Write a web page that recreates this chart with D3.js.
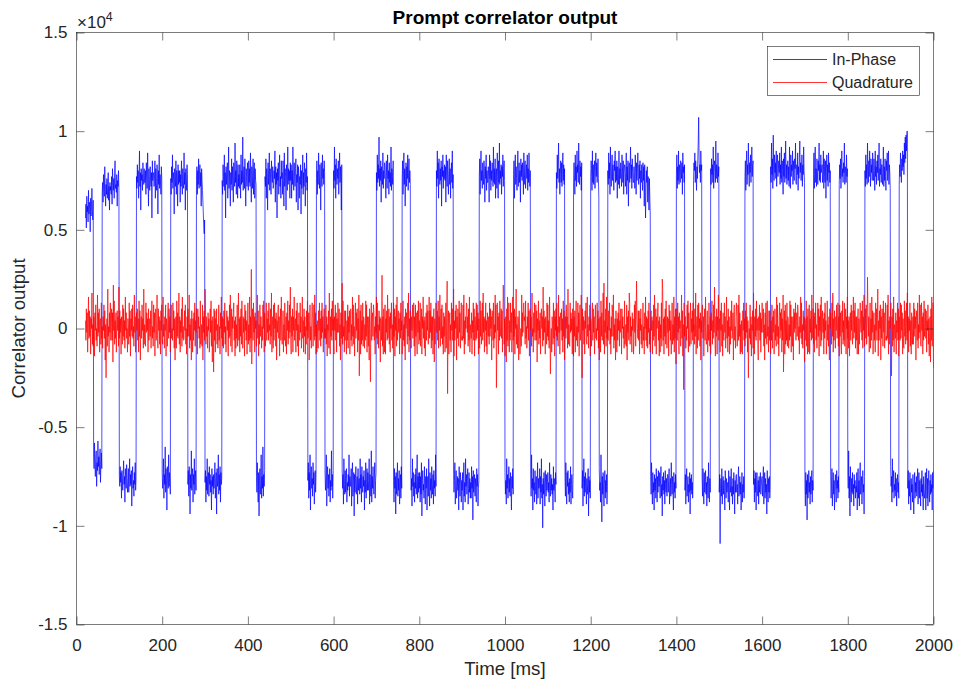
<!DOCTYPE html>
<html>
<head>
<meta charset="utf-8">
<title>Prompt correlator output</title>
<script src="https://cdn.jsdelivr.net/npm/d3@7"></script>
<style>
  html, body { margin: 0; padding: 0; background: #ffffff; }
  svg { display: block; }
</style>
</head>
<body>
<svg id="chart" width="957" height="684"></svg>
<script>
// ---- Data ---------------------------------------------------------------
// Prompt correlator samples in units of 100 counts, one per 1 ms epoch,
// starting at t = 21 ms. Each row of inPhase spans one 20 ms navigation bit.
const sampleStartMs = 21;
const sampleStepMs = 1;
const sampleUnit = 100;

const inPhase = [
  56,63,51,67,59,62,54,70,58,64,61,49,66,57,63,71,60,55,65,
  -64,-71,-58,-69,-75,-66,-62,-80,-68,-72,-57,-70,-65,-74,-67,-61,-78,-69,-63,-71,
  69,74,64,78,71,67,82,70,62,73,68,76,66,71,79,65,72,60,74,70,
  72,68,77,63,81,74,70,76,66,79,85,71,73,69,78,62,75,72,80,70,
  -75,-80,-70,-78,-73,-86,-72,-76,-82,-74,-67,-79,-75,-88,-71,-77,-81,-69,-76,-83,
  -78,-71,-83,-75,-66,-80,-74,-79,-72,-90,-76,-70,-81,-77,-85,-73,-79,-68,-82,-76,
  77,71,83,74,80,66,76,90,72,79,60,81,75,78,70,84,76,73,81,74,
  74,80,68,84,76,71,89,77,62,81,73,70,82,75,72,79,56,85,75,78,
  79,72,76,85,66,81,74,70,83,76,58,80,73,88,71,78,75,68,82,76,
  -73,-81,-76,-66,-86,-74,-79,-60,-83,-71,-77,-92,-70,-76,-81,-64,-80,-73,-78,-84,
  76,68,82,74,88,71,79,75,58,81,77,72,85,68,80,76,62,83,73,80,
  74,80,64,78,72,85,75,68,81,74,71,89,73,79,60,81,76,70,83,75,
  -79,-72,-85,-70,-77,-94,-74,-81,-62,-82,-75,-71,-88,-74,-79,-66,-84,-76,-72,-82,
  75,82,68,80,73,86,71,78,83,72,79,62,81,75,70,64,58,52,48,55,
  -78,-72,-88,-75,-82,-66,-84,-76,-73,-85,-70,-79,-74,-83,-77,-92,-71,-80,-75,-84,
  -74,-81,-76,-68,-86,-78,-73,-94,-71,-80,-77,-64,-84,-74,-82,-70,-88,-73,-79,-76,
  75,68,83,77,72,88,70,79,56,82,73,78,84,66,76,92,71,80,74,62,
  79,73,86,70,82,75,64,84,77,72,94,74,80,68,85,76,66,83,72,78,
  71,83,76,66,88,73,80,74,97,70,78,82,71,86,75,62,81,77,72,84,
  78,70,85,74,81,72,89,74,64,82,77,71,86,68,80,84,66,81,75,73,
  -75,-83,-68,-80,-88,-73,-95,-77,-71,-84,-78,-64,-86,-75,-81,-60,-85,-74,-80,-72,
  77,72,86,66,81,75,60,84,73,80,89,70,81,76,68,85,78,74,82,71,
  73,80,76,90,64,82,73,79,56,81,75,84,68,80,88,72,77,66,85,76,
  79,68,85,75,62,89,72,81,77,60,83,76,70,92,73,81,75,80,66,84,
  75,83,66,80,73,92,76,70,84,77,72,81,86,64,78,74,83,60,82,77,
  66,77,73,83,58,80,71,75,88,68,79,72,84,76,62,81,74,89,70,77,
  -77,-68,-86,-73,-82,-64,-92,-75,-70,-81,-76,-85,-68,-79,-73,-89,-78,-72,-83,-74,
  76,85,68,80,73,89,78,71,83,75,60,84,77,72,88,76,81,73,85,79,
  -73,-82,-75,-64,-90,-77,-70,-81,-74,-85,-79,-71,-88,-77,-82,-62,-80,-74,-86,-72,
  80,71,92,75,83,66,86,77,73,81,76,85,68,79,89,74,82,75,60,83,
  -71,-81,-74,-89,-66,-79,-84,-72,-83,-76,-71,-88,-78,-82,-74,-80,-64,-85,-75,-79,
  -80,-71,-90,-75,-68,-85,-77,-73,-95,-74,-83,-76,-70,-84,-79,-75,-89,-71,-82,-77,
  -76,-84,-66,-81,-74,-88,-70,-79,-83,-75,-80,-72,-92,-77,-83,-68,-86,-78,-71,-82,
  -73,-82,-77,-66,-89,-74,-80,-85,-62,-88,-75,-81,-70,-79,-84,-76,-68,-86,-77,-73,
  79,70,88,74,83,76,97,72,81,75,85,64,82,77,73,89,71,80,76,84,
  82,74,66,85,77,71,88,76,80,68,84,74,79,72,92,70,81,77,73,85,
  -77,-88,-71,-81,-75,-94,-73,-84,-78,-68,-85,-76,-82,-72,-89,-80,-74,-86,-70,-81,
  75,85,68,80,89,73,81,62,77,84,72,82,76,88,70,79,86,74,80,73,
  -72,-82,-76,-90,-66,-80,-73,-85,-78,-88,-74,-81,-71,-84,-77,-64,-86,-75,-83,-73,
  -81,-73,-88,-75,-84,-68,-95,-77,-72,-82,-79,-86,-70,-80,-89,-75,-81,-71,-92,-76,
  -75,-85,-66,-80,-90,-73,-82,-76,-86,-70,-79,-84,-74,-89,-72,-81,-77,-85,-64,-80,
  80,72,90,76,84,66,86,78,73,81,75,85,62,82,77,88,71,80,76,83,
  75,82,64,88,77,72,85,76,68,80,86,73,81,66,79,84,74,90,71,78,
  -74,-83,-77,-68,-89,-80,-72,-86,-81,-75,-82,-76,-92,-70,-79,-85,-73,-78,-88,-77,
  -82,-73,-92,-76,-68,-85,-78,-88,-66,-80,-74,-84,-77,-71,-89,-81,-73,-83,-76,-86,
  -78,-86,-70,-81,-75,-97,-72,-83,-79,-74,-85,-76,-82,-88,-71,-80,-74,-90,-81,-77,
  77,86,68,81,90,75,80,71,84,78,73,85,77,64,82,76,88,70,80,74,
  74,82,77,64,88,76,85,70,80,75,84,78,72,92,74,81,73,86,66,79,
  81,71,89,77,66,85,74,94,73,80,76,83,68,82,77,88,72,81,85,75,
  -73,-84,-77,-89,-66,-81,-74,-86,-79,-70,-83,-76,-85,-73,-80,-92,-75,-81,-71,-84,
  78,85,66,80,88,73,82,76,70,81,90,72,79,84,74,80,64,86,77,83,
  75,84,79,68,89,73,81,85,71,78,83,76,88,70,81,74,89,79,72,80,
  -74,-85,-64,-81,-76,-92,-71,-82,-78,-88,-72,-80,-84,-75,-89,-79,-68,-86,-76,-81,
  -80,-71,-89,-75,-83,-66,-86,-79,-101,-76,-84,-73,-81,-90,-72,-80,-85,-74,-82,-78,
  -73,-83,-78,-88,-68,-81,-85,-74,-82,-76,-84,-79,-92,-70,-82,-76,-81,-88,-73,-79,
  79,71,88,76,82,94,74,81,68,78,85,74,84,72,81,89,75,83,73,81,
  -75,-85,-68,-82,-89,-73,-80,-72,-84,-78,-88,-76,-83,-70,-89,-79,-74,-82,-86,-73,
  74,84,78,68,88,75,82,72,90,79,83,74,94,80,73,85,77,82,70,84,
  -81,-72,-90,-78,-66,-85,-75,-83,-73,-80,-89,-76,-84,-79,-71,-95,-75,-83,-77,-86,
  77,85,81,70,90,74,83,73,79,85,71,82,89,77,84,74,80,86,76,66,
  -71,-82,-78,-88,-64,-80,-98,-75,-84,-73,-82,-90,-79,-72,-86,-77,-83,-74,-89,-80,
  80,73,89,76,84,68,92,79,72,82,88,75,83,77,70,85,80,90,74,82,
  75,85,66,82,78,73,90,71,81,76,84,79,72,88,82,74,85,68,79,83,
  82,72,79,89,68,82,75,85,62,78,84,74,80,92,76,83,71,86,79,74,
  74,82,76,71,88,79,68,84,75,81,89,77,73,83,76,85,66,80,74,83,
  78,70,84,75,82,62,83,73,56,71,80,74,82,64,77,72,60,76,66,58,
  -75,-84,-68,-81,-89,-73,-83,-78,-92,-74,-82,-76,-86,-71,-79,-88,-75,-83,-72,-80,
  -80,-73,-86,-76,-70,-85,-79,-95,-75,-82,-73,-84,-77,-89,-72,-81,-83,-76,-85,-74,
  -74,-83,-77,-71,-89,-81,-76,-85,-68,-79,-84,-75,-82,-92,-73,-83,-78,-86,-74,-81,
  78,88,71,82,75,90,73,83,79,74,85,81,76,84,68,89,79,82,74,83,
  -82,-74,-89,-78,-71,-85,-81,-75,-88,-79,-83,-73,-94,-76,-82,-74,-84,-78,-86,-75,
  75,84,80,89,74,85,78,70,82,76,86,95,107,85,79,83,74,90,80,83,
  -76,-85,-71,-82,-89,-73,-83,-79,-72,-84,-78,-90,-75,-80,-86,-68,-82,-88,-76,-83,
  81,73,86,78,83,74,92,71,79,85,82,74,95,76,83,80,74,89,77,82,
  -83,-74,-109,-81,-76,-85,-71,-89,-79,-75,-84,-77,-82,-92,-72,-80,-86,-76,-83,-79,
  -78,-88,-72,-82,-92,-75,-83,-79,-71,-85,-80,-89,-76,-84,-73,-82,-94,-77,-83,-75,
  -74,-83,-79,-89,-76,-70,-85,-81,-75,-84,-78,-92,-82,-73,-88,-79,-83,-75,-86,-80,
  77,85,70,82,90,73,83,78,94,80,72,84,79,88,74,82,92,77,83,85,
  -79,-72,-88,-76,-83,-73,-92,-80,-73,-82,-85,-77,-89,-75,-83,-79,-73,-84,-80,-76,
  -75,-85,-78,-70,-89,-81,-73,-86,-76,-83,-79,-94,-72,-82,-88,-76,-83,-75,-86,-79,
  82,74,94,78,86,71,98,80,75,88,79,84,76,90,72,83,88,77,81,85,
  79,89,73,83,76,92,74,85,80,68,86,77,89,74,82,95,76,83,73,80,
  85,75,82,72,92,79,71,88,77,83,80,90,73,85,79,75,86,81,94,74,
  73,83,78,89,70,82,76,86,95,79,84,75,80,88,72,83,78,92,80,74,
  -80,-90,-73,-84,-77,-97,-74,-86,-81,-72,-83,-78,-89,-75,-84,-80,-72,-88,-77,-82,
  78,89,71,83,92,74,81,72,86,79,73,85,80,94,75,83,74,88,79,81,
  83,74,80,90,71,86,77,74,85,66,81,88,75,83,72,89,79,84,74,80,
  -75,-86,-79,-71,-90,-81,-73,-84,-77,-92,-80,-74,-82,-88,-72,-81,-77,-86,-75,-83,
  73,83,76,86,71,80,90,77,81,74,84,79,94,73,82,80,74,88,77,81,
  -72,-81,-62,-86,-75,-95,-70,-80,-88,-76,-83,-73,-84,-79,-90,-74,-81,-77,-86,-80,
  -83,-73,-92,-79,-71,-86,-77,-90,-74,-68,-84,-80,-75,-89,-81,-72,-83,-79,-94,-75,
  80,72,88,76,83,73,94,80,74,85,77,90,81,72,86,79,83,75,89,80,
  75,86,80,70,90,77,82,73,85,79,88,75,82,94,72,81,78,86,74,83,
  83,73,79,92,72,82,75,86,77,70,85,80,89,75,81,90,73,83,79,71,
  -70,-80,-75,-88,-66,-83,-77,-72,-86,-79,-82,-73,-85,-76,-90,-80,-74,-83,-78,-86,
  73,83,77,89,81,74,86,80,90,82,88,78,94,84,97,86,98,90,100,100,
  -81,-72,-89,-77,-85,-73,-82,-92,-76,-83,-79,-88,-74,-84,-94,-80,-73,-86,-78,-83,
  -75,-85,-79,-71,-89,-80,-73,-86,-77,-82,-90,-76,-83,-72,-85,-79,-92,-75,-82,-86,
  -83,-73,-92,-79,-71,-86,-76,-90,-80,-72,-82,-88,-77,-84,-74,-83,-79,-92,-73,-81,
  -72
];

const quadrature = [
  4,-6,10,-2,8,-12,1,16,-5,9,-4,6,-13,5,0,18,-8,2,-9,6,
  5,-14,8,-1,12,-6,0,-9,17,-4,8,-2,10,-12,4,5,-8,13,-5,1,
  -10,6,-1,12,-5,9,-16,2,-25,-2,5,-9,20,-4,1,-12,8,-2,13,-6,
  1,10,-6,8,-17,22,-1,14,-8,4,-5,8,-12,2,9,-1,6,-9,21,-5,
  9,-2,5,-13,6,1,-8,12,-4,10,-6,4,-10,16,-1,8,-5,0,-12,5,
  2,-8,13,-4,9,-14,5,-1,10,-4,12,-5,1,-9,17,-2,6,-12,4,8,
  -1,10,-6,5,-12,14,-4,9,-16,0,6,-5,12,-1,5,-10,20,-8,2,-5,
  -9,13,-2,8,-1,5,-12,10,-6,2,5,-4,9,-10,2,14,-5,1,-9,12,
  -2,8,-14,5,10,-6,0,17,-5,-10,10,-1,6,-8,4,-13,9,-1,12,-5,
  -8,16,-4,2,-10,6,-1,12,-14,5,1,-9,8,13,-5,10,-2,6,-12,4,
  12,-5,0,-6,13,-1,9,-10,5,-16,-1,6,-10,14,-4,8,-5,2,18,-8,
  6,-12,4,-2,10,-9,16,-5,1,-6,-5,9,-1,12,-8,0,-13,6,-4,10,
  8,-4,17,-10,2,-6,5,-16,9,-1,-12,5,-6,8,-1,13,-9,4,-2,10,
  4,-13,10,0,6,-5,1,-10,14,-8,-5,2,-9,12,-16,6,-2,9,-6,20,
  12,-8,6,-4,1,-10,8,-1,5,-12,-6,10,-2,14,-9,4,-17,6,1,-22,
  10,-6,9,-12,5,-1,10,-8,2,-10,-4,12,-6,1,-13,8,0,16,-5,6,
  -9,5,-10,9,-2,13,-8,1,-12,6,9,-1,6,-14,4,-5,12,-4,17,-9,
  -2,10,-12,6,0,8,13,-6,4,-14,6,-10,2,-5,12,-9,1,18,-6,5,
  -12,6,-4,10,-8,14,-1,-10,6,-2,5,-14,12,-1,9,-6,4,-13,1,13,
  -8,2,-6,16,-12,6,-5,30,-18,1,10,-6,13,-2,6,-12,8,0,4,-9,
  -1,17,-5,9,-14,2,-8,12,-4,6,6,-10,1,-6,12,0,14,-12,8,-6,
  -9,4,13,-6,5,-2,9,-6,13,-1,2,-8,10,-4,18,-12,1,6,-10,12,
  -6,13,0,5,-9,8,-16,4,-2,9,12,-5,6,-14,1,10,-6,16,-1,-8,
  -4,9,-12,2,-6,13,0,-9,6,-13,8,-1,14,-8,4,-5,12,-2,21,-6,
  -13,6,-4,10,-12,6,-1,16,-6,2,5,-12,9,-1,13,-9,2,-14,8,-4,
  -6,13,-2,6,-10,0,16,-5,4,-12,10,-4,6,-13,1,-8,9,-1,14,-5,
  -2,8,-16,4,12,-6,1,-10,6,13,5,-9,0,12,-6,17,-4,8,-13,2,
  -12,4,-6,-10,9,-1,13,-6,5,-9,9,-5,13,-2,6,-12,4,10,-5,0,
  -5,12,-8,6,-14,2,-1,9,-10,18,1,-13,6,-4,10,-6,14,-1,5,-8,
  -13,6,-1,12,-6,8,-12,5,-2,13,6,-2,10,-9,2,-16,8,-5,13,23,
  -8,14,-4,1,-12,9,-6,9,-1,-13,4,-6,12,-10,6,-2,9,-13,0,10,
  -6,2,-9,16,-4,12,-8,1,-14,6,13,-5,8,-1,10,-12,5,-6,17,-24,
  0,9,-13,12,-8,4,-6,13,-9,6,5,-10,2,-6,14,-4,12,-12,6,-1,
  -9,6,-16,10,-2,-27,0,13,-6,4,8,-4,12,9,-6,1,-13,6,-2,16,
  -5,13,-8,2,-10,9,-1,6,-17,5,2,-6,27,-9,6,-13,10,-4,-12,12,
  -13,5,-2,9,-6,17,-5,1,10,-8,6,-12,8,0,13,-6,2,-10,5,13,
  -4,10,-14,6,-1,12,-9,16,-6,0,9,-2,5,-13,8,-5,13,-1,4,-13,
  -6,14,-6,2,-9,6,-16,10,0,8,1,-8,13,-4,18,-12,5,-6,9,-2,
  -10,6,-1,12,-5,0,13,-9,6,-14,12,-4,8,-6,-13,9,-2,14,-8,4,
  -6,13,-9,1,10,-13,6,0,16,-5,4,-10,6,-14,2,8,-6,12,-1,9,
  -8,1,16,-5,9,-2,13,-10,6,-6,6,-13,4,10,-17,5,-8,2,13,0,
  -2,9,-6,14,-10,6,-1,17,-9,5,10,-5,12,-8,1,-13,8,-4,6,-12,
  -1,13,-10,5,24,-33,-2,9,-13,2,8,-6,2,-12,13,-1,10,-6,4,20,
  -14,4,-6,9,0,12,-16,6,-5,10,5,-9,14,-2,8,-10,1,13,-6,-4,
  -6,12,-5,17,-13,4,-8,6,0,13,12,-2,6,-9,10,-6,16,-12,2,-1,
  -5,8,-13,4,-2,13,-6,10,-14,6,2,-6,13,-5,12,-1,8,-13,5,-9,
  -10,14,-4,9,-8,1,13,-6,18,-2,6,-12,5,-1,13,-9,4,-13,8,0,
  -4,6,-8,13,-4,10,0,6,-16,9,4,-6,13,-10,2,-5,17,-2,12,-30,
  -9,13,-1,6,-13,8,-6,14,-4,1,10,-5,9,-12,4,22,12,-8,5,-14,
  -2,6,-17,10,-6,16,-9,2,13,-12,4,-6,13,-2,8,-12,1,16,-6,9,
  -4,10,-13,6,0,20,-8,2,-10,6,5,-16,9,-1,-13,-6,0,-9,17,-4,
  8,-2,12,13,4,6,-8,14,-5,1,-10,6,0,13,-6,9,-14,2,10,-1,
  6,-9,18,-4,0,-12,8,-2,13,-6,1,12,-6,9,-17,5,-1,14,-8,4,
  -5,8,-13,2,10,0,6,-9,21,-6,9,-2,5,-13,6,1,-8,13,-4,12,
  -6,4,-10,16,-1,-23,-6,0,-12,6,2,-8,13,-5,9,-14,6,-1,10,-4,
  13,-6,1,-9,17,-2,6,-13,4,8,-1,10,-6,5,-12,14,-4,9,-16,0,
  6,-5,12,0,6,-10,20,-8,2,-6,-9,13,-2,8,-1,5,-13,10,-6,-14,
  6,-4,9,-12,2,14,-6,1,-9,13,-2,8,-14,5,12,-6,0,17,-5,-25,
  10,-1,6,-8,4,-13,9,0,13,-6,-8,16,-4,2,-10,6,-1,12,-14,5,
  1,-9,8,13,-6,10,-2,6,-13,4,12,-5,0,-6,13,-1,9,-10,5,-16,
  0,6,-12,14,-4,8,-6,2,18,-8,23,-13,4,-2,10,-9,16,-5,1,-6,
  -6,9,-1,13,-8,0,-13,6,-4,12,8,-4,17,-10,2,-6,5,-16,9,0,
  -12,5,-6,8,-1,13,-9,4,-2,10,4,-13,10,0,6,-5,1,-10,14,-8,
  -5,2,-9,12,-16,6,-2,9,-6,18,13,-8,6,-4,1,-12,8,-1,5,-13,
  -6,12,-2,14,-9,4,24,6,0,-5,9,-6,9,-13,5,-1,10,-8,2,-10,
  -4,13,-6,1,-13,8,0,16,-6,6,-9,5,-10,9,-2,13,-8,0,-12,6,
  9,-1,6,-13,4,-6,12,-4,17,-9,-2,10,-13,6,0,8,13,-6,4,-14,
  6,-12,2,-5,13,-9,25,20,-6,5,-13,6,-4,10,-8,14,-1,-10,6,-2,
  5,-14,12,-1,9,-6,4,-13,0,13,-8,2,-6,16,-12,6,-5,10,-18,1,
  10,-6,13,-2,6,-13,8,0,4,-9,-1,17,-5,9,-14,2,-31,13,-4,6,
  6,-10,1,-6,12,0,14,-12,8,-6,-9,4,13,-8,5,-2,9,-6,13,-1,
  2,-8,10,-4,18,-13,0,6,-10,12,-6,13,0,5,-9,8,-16,4,-2,9,
  12,-5,6,-14,1,10,-6,16,-1,-8,-4,9,-12,2,-6,13,0,-9,6,-13,
  8,-1,14,-8,4,-5,12,-2,21,-6,-14,6,-4,10,-13,6,-1,17,-6,2,
  5,-12,9,-1,13,-9,2,-14,8,-4,-6,13,-2,6,-10,0,16,-5,4,-12,
  10,-4,6,-13,1,-8,9,-1,14,-5,-2,8,-16,4,12,-6,1,-10,6,13,
  6,-9,0,12,-6,17,-4,8,-13,2,-12,4,-6,-13,9,-1,13,-6,5,-9,
  9,-5,13,-2,6,-12,4,-25,-5,0,-5,12,-8,6,-14,2,-1,9,-10,18,
  1,-13,6,-4,10,-6,14,-1,5,-8,-16,6,-1,12,-6,8,-12,5,-2,13,
  6,-2,10,-9,2,-16,8,-5,13,-1,-8,14,-4,1,-12,9,-6,9,-1,-13,
  4,-6,12,-10,6,-2,9,-13,0,10,-6,2,-9,16,-4,12,-8,1,-14,6,
  13,-5,8,-1,10,-12,5,-6,17,-22,0,9,-13,12,-8,4,-6,13,-9,6,
  5,-10,2,-6,14,-4,12,-12,6,-1,-9,6,-16,10,-2,8,0,13,-6,4,
  8,-4,12,9,-6,1,-13,6,-2,16,-5,13,-8,2,-10,9,-1,6,-17,5,
  2,-6,14,-9,6,-13,10,-4,-12,12,-13,5,-2,9,-6,17,-5,1,10,-8,
  6,-12,8,0,13,-6,2,-10,5,13,-4,10,-14,6,-1,12,-9,16,-6,0,
  9,-2,5,-13,8,-5,13,-1,4,-13,-6,14,-6,2,-9,6,-16,10,0,8,
  1,-8,13,-4,18,-12,5,-6,9,-2,-10,6,-1,12,-5,0,13,-9,6,-14,
  12,-4,8,-6,-13,9,-2,14,-8,4,-6,13,-9,1,10,-13,6,0,16,-5,
  4,-10,6,-14,2,8,-6,12,-1,9,-8,1,16,-5,9,-2,13,-10,6,-6,
  6,-13,4,10,-13,5,-8,2,13,0,-2,9,-6,14,-10,6,-1,17,-9,5,
  10,-5,12,-8,1,26,8,-4,6,-12,-1,13,-10,5,-6,16,-2,9,-13,2,
  8,-6,2,-12,13,-1,10,-6,4,20,-14,4,-6,9,0,12,-16,6,-5,10,
  5,-9,14,-2,8,-10,1,13,-6,-4,-6,12,-5,17,-13,4,-8,6,0,13,
  13,-24,6,-9,10,-6,16,-12,2,-1,-5,8,-13,4,-2,13,-6,10,-14,6,
  2,-6,13,-5,12,-1,8,-13,5,-9,-10,14,-4,9,-8,1,13,-6,18,-2,
  6,-12,5,-1,13,-9,4,-13,8,0,-8,6,-8,13,-4,10,0,6,-16,9,
  4,-6,13,-10,2,-5,17,-2,12,-8,-9,13,-1,6,-13,8,-6,14,-4,1,
  10,-5,9,-12,4,-1,12,-8,5,-14,-2,6,-17,10,-6,16,-9,2,13,-20
];

const seriesNames = ["In-Phase", "Quadrature"];
const seriesColors = ["#0000ff", "#ff0000"];

const xTickValues = [0, 200, 400, 600, 800, 1000, 1200, 1400, 1600, 1800, 2000];
const yTickValues = [-15000, -10000, -5000, 0, 5000, 10000, 15000];
const yTickLabels = ["-1.5", "-1", "-0.5", "0", "0.5", "1", "1.5"];

const titleText = "Prompt correlator output";
const xLabelText = "Time [ms]";
const yLabelText = "Correlator output";

// ---- Layout -------------------------------------------------------------
const fontStack = "'Liberation Sans', Arial, Helvetica, sans-serif";
const ink = "#262626";
const frame = { left: 76.5, right: 933.5, top: 32.5, bottom: 624.5 };
const tickLen = 8;

const svg = d3.select("#chart");

const x = d3.scaleLinear().domain([0, 2000]).range([frame.left, frame.right]);
const y = d3.scaleLinear().domain([-15000, 15000]).range([frame.bottom, frame.top]);

const toPoints = vals => vals.map((v, i) => ({
  t: sampleStartMs + i * sampleStepMs,
  v: v * sampleUnit
}));

const series = [inPhase, quadrature].map((vals, i) => ({
  name: seriesNames[i],
  color: seriesColors[i],
  points: toPoints(vals)
}));

// Clip traces to the axes box
svg.append("defs").append("clipPath").attr("id", "plot-clip")
  .append("rect")
  .attr("x", frame.left).attr("y", frame.top)
  .attr("width", frame.right - frame.left)
  .attr("height", frame.bottom - frame.top);

const line = d3.line().x(d => x(d.t)).y(d => y(d.v));

svg.append("g").attr("clip-path", "url(#plot-clip)")
  .selectAll("path")
  .data(series)
  .join("path")
  .attr("d", d => line(d.points))
  .attr("fill", "none")
  .attr("stroke", d => d.color)
  .attr("stroke-width", 0.7)
  .attr("stroke-linejoin", "round");

// ---- Axes (ticks point inward on all four sides) ------------------------
function styleAxis(g) {
  g.attr("font-family", fontStack).attr("font-size", 17);
  g.select(".domain").remove();
  g.selectAll(".tick line").attr("stroke", ink).attr("stroke-width", 0.6);
  g.selectAll(".tick text").attr("fill", ink);
}

svg.append("g")
  .attr("transform", `translate(0,${frame.bottom})`)
  .call(d3.axisBottom(x).tickValues(xTickValues).tickSize(-tickLen).tickPadding(14)
    .tickFormat(d3.format("d")))
  .call(styleAxis);

svg.append("g")
  .attr("transform", `translate(0,${frame.top})`)
  .call(d3.axisTop(x).tickValues(xTickValues).tickSize(-tickLen).tickFormat(""))
  .call(styleAxis);

svg.append("g")
  .attr("transform", `translate(${frame.left},0)`)
  .call(d3.axisLeft(y).tickValues(yTickValues).tickSize(-tickLen).tickPadding(9)
    .tickFormat((d, i) => yTickLabels[i]))
  .call(styleAxis);

svg.append("g")
  .attr("transform", `translate(${frame.right},0)`)
  .call(d3.axisRight(y).tickValues(yTickValues).tickSize(-tickLen).tickFormat(""))
  .call(styleAxis);

svg.append("rect")
  .attr("x", frame.left).attr("y", frame.top)
  .attr("width", frame.right - frame.left)
  .attr("height", frame.bottom - frame.top)
  .attr("fill", "none")
  .attr("stroke", ink)
  .attr("stroke-width", 0.6);

// Exponent marker for the y axis
const expo = svg.append("text")
  .attr("x", 77).attr("y", 27.5)
  .attr("font-family", fontStack).attr("font-size", 17).attr("fill", ink);
expo.append("tspan").text("\u00d710");
expo.append("tspan").attr("font-size", 12.5).attr("dy", -7).text("4");

// ---- Title and labels ---------------------------------------------------
svg.append("text")
  .attr("x", (frame.left + frame.right) / 2).attr("y", 23.5)
  .attr("text-anchor", "middle")
  .attr("font-family", fontStack).attr("font-size", 19).attr("font-weight", "bold")
  .attr("fill", "#000")
  .text(titleText);

svg.append("text")
  .attr("x", (frame.left + frame.right) / 2).attr("y", 675)
  .attr("text-anchor", "middle")
  .attr("font-family", fontStack).attr("font-size", 18.7).attr("fill", ink)
  .text(xLabelText);

svg.append("text")
  .attr("transform", `translate(25,${(frame.top + frame.bottom) / 2}) rotate(-90)`)
  .attr("text-anchor", "middle")
  .attr("font-family", fontStack).attr("font-size", 18.7).attr("fill", ink)
  .text(yLabelText);

// ---- Legend -------------------------------------------------------------
const legend = svg.append("g");
legend.append("rect")
  .attr("x", 767.5).attr("y", 46.5).attr("width", 152).attr("height", 49)
  .attr("fill", "#fff").attr("stroke", ink).attr("stroke-width", 0.6);

const legendRows = legend.selectAll("g.row")
  .data(series)
  .join("g")
  .attr("class", "row")
  .attr("transform", (d, i) => `translate(0,${59.5 + i * 23})`);

legendRows.append("line")
  .attr("x1", 773).attr("x2", 827).attr("y1", 0).attr("y2", 0)
  .attr("stroke", d => d.color).attr("stroke-width", 0.8);

legendRows.append("text")
  .attr("x", 832).attr("y", 0).attr("dy", "0.35em")
  .attr("font-family", fontStack).attr("font-size", 16).attr("fill", ink)
  .text(d => d.name);
</script>
</body>
</html>
